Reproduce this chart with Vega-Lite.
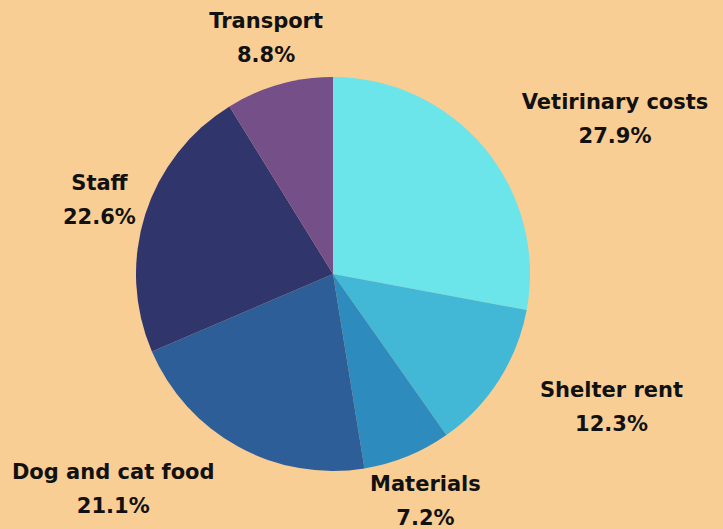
{
  "$schema": "https://vega.github.io/schema/vega-lite/v6.json",
  "width": 666,
  "height": 510,
  "autosize": {"type": "none"},
  "padding": {"left": 0, "top": 19, "right": 57, "bottom": 0},
  "background": "#F9CE94",
  "config": {"view": {"stroke": null}},
  "data": {
    "values": [
      {"category": "Vetirinary costs", "value": 27.9, "order": 1, "label": ["Vetirinary costs", "27.9%"]},
      {"category": "Shelter rent", "value": 12.3, "order": 2, "label": ["Shelter rent", "12.3%"]},
      {"category": "Materials", "value": 7.2, "order": 3, "label": ["Materials", "7.2%"]},
      {"category": "Dog and cat food", "value": 21.1, "order": 4, "label": ["Dog and cat food", "21.1%"]},
      {"category": "Staff", "value": 22.6, "order": 5, "label": ["Staff", "22.6%"]},
      {"category": "Transport", "value": 8.8, "order": 6, "label": ["Transport", "8.8%"]}
    ]
  },
  "encoding": {
    "theta": {"field": "value", "type": "quantitative", "stack": true},
    "order": {"field": "order", "type": "quantitative"}
  },
  "layer": [
    {
      "mark": {"type": "arc", "radius": 197},
      "encoding": {
        "color": {
          "field": "category",
          "type": "nominal",
          "legend": null,
          "scale": {
            "domain": ["Vetirinary costs", "Shelter rent", "Materials", "Dog and cat food", "Staff", "Transport"],
            "range": ["#6BE4EA", "#42B8D6", "#2E8BBD", "#2E5E98", "#30356B", "#744F88"]
          }
        }
      }
    },
    {
      "mark": {"type": "text", "radius": 245, "dy": -16, "font": "DejaVu Sans", "fontWeight": "bold", "fontSize": 21, "lineHeight": 34, "align": "center", "baseline": "middle", "color": "#111111"},
      "encoding": {
        "text": {"condition": {"test": "datum.category === 'Materials' || datum.category === 'Staff' || datum.category === 'Transport'", "field": "label"}, "value": ""}
      }
    },
    {
      "mark": {"type": "text", "radius": 316, "dx": 39, "dy": 31, "font": "DejaVu Sans", "fontWeight": "bold", "fontSize": 21, "lineHeight": 34, "align": "center", "baseline": "middle", "color": "#111111"},
      "encoding": {
        "text": {"condition": {"test": "datum.category === 'Vetirinary costs'", "field": "label"}, "value": ""}
      }
    },
    {
      "mark": {"type": "text", "radius": 306, "dx": 21, "dy": -48, "font": "DejaVu Sans", "fontWeight": "bold", "fontSize": 21, "lineHeight": 34, "align": "center", "baseline": "middle", "color": "#111111"},
      "encoding": {
        "text": {"condition": {"test": "datum.category === 'Shelter rent'", "field": "label"}, "value": ""}
      }
    },
    {
      "mark": {"type": "text", "radius": 294, "dx": -78, "dy": -59, "font": "DejaVu Sans", "fontWeight": "bold", "fontSize": 21, "lineHeight": 34, "align": "center", "baseline": "middle", "color": "#111111"},
      "encoding": {
        "text": {"condition": {"test": "datum.category === 'Dog and cat food'", "field": "label"}, "value": ""}
      }
    }
  ]
}
